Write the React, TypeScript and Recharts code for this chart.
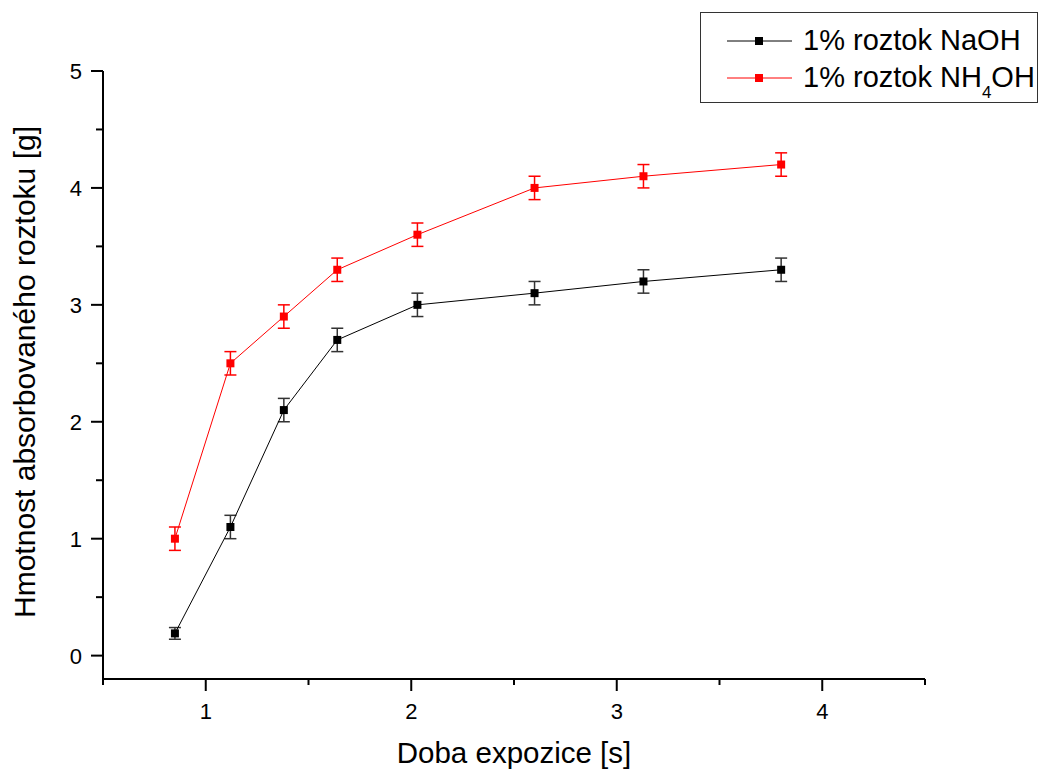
import { LineChart, Line, XAxis, YAxis, ErrorBar, Legend, Label } from 'recharts';

const exposure = [0.85, 1.12, 1.38, 1.64, 2.03, 2.6, 3.13, 3.8];
const naoh = [0.19, 1.1, 2.1, 2.7, 3.0, 3.1, 3.2, 3.3];
const naohErr = [0.05, 0.1, 0.1, 0.1, 0.1, 0.1, 0.1, 0.1];
const nh4oh = [1.0, 2.5, 2.9, 3.3, 3.6, 4.0, 4.1, 4.2];
const nh4ohErr = [0.1, 0.1, 0.1, 0.1, 0.1, 0.1, 0.1, 0.1];
const xTicks = [0.5, 1, 1.5, 2, 2.5, 3, 3.5, 4, 4.5];
const yTicks = [0, 0.5, 1, 1.5, 2, 2.5, 3, 3.5, 4, 4.5, 5];

const data = exposure.map((x, i) => ({
  x,
  naoh: naoh[i],
  naohErr: naohErr[i],
  nh4oh: nh4oh[i],
  nh4ohErr: nh4ohErr[i],
}));

const FONT = '"Liberation Sans", Arial, sans-serif';

function squareDot(color: string) {
  return (props: any) => {
    const { cx, cy, index } = props;
    if (cx == null || cy == null) return <g key={`d-${index}`} />;
    return <rect key={`d-${index}`} x={cx - 4} y={cy - 4} width={8} height={8} fill={color} />;
  };
}

function XTick(props: any) {
  const { x, y, payload } = props;
  const major = Number.isInteger(payload.value);
  return (
    <g>
      <line x1={x} y1={y} x2={x} y2={y + (major ? 12 : 6)} stroke="#000" strokeWidth={2} />
      {major && (
        <text x={x} y={y + 40} textAnchor="middle" fontSize={22} fontFamily={FONT} fill="#000">
          {payload.value}
        </text>
      )}
    </g>
  );
}

function YTick(props: any) {
  const { x, y, payload } = props;
  const major = Number.isInteger(payload.value);
  return (
    <g>
      <line x1={x - (major ? 12 : 7)} y1={y} x2={x} y2={y} stroke="#000" strokeWidth={2} />
      {major && (
        <text x={x - 21} y={y + 8} textAnchor="end" fontSize={22} fontFamily={FONT} fill="#000">
          {payload.value}
        </text>
      )}
    </g>
  );
}

function LegendBox() {
  return (
    <div style={{ width: 336, height: 89, border: '1px solid #333', background: '#fff' }}>
      <svg width={336} height={89}>
        <line x1={26} y1={28} x2={91} y2={28} stroke="#000" strokeWidth={1} />
        <rect x={54} y={24} width={8} height={8} fill="#000" />
        <text x={102} y={37} fontSize={29} fontFamily={FONT} fill="#000">
          1% roztok NaOH
        </text>
        <line x1={26} y1={65} x2={91} y2={65} stroke="#ff0000" strokeWidth={1} />
        <rect x={54} y={61} width={8} height={8} fill="#ff0000" />
        <text x={102} y={74} fontSize={29} fontFamily={FONT} fill="#000">
          1% roztok NH
          <tspan fontSize={17} dy={11}>4</tspan>
          <tspan dy={-11}>OH</tspan>
        </text>
      </svg>
    </div>
  );
}

export default function App() {
  return (
    <div style={{ position: 'absolute', left: 0, top: 0, background: '#fff' }}>
      <LineChart width={1038} height={769} data={data} margin={{ top: 71, right: 113, bottom: 0, left: 0 }}>
        <XAxis
          dataKey="x"
          type="number"
          domain={[0.5, 4.5]}
          ticks={xTicks}
          interval={0}
          allowDataOverflow
          height={90}
          tickSize={0}
          tickMargin={0}
          tickLine={false}
          tick={<XTick />}
          axisLine={{ stroke: '#000', strokeWidth: 2 }}
        >
          <Label
            content={(p: any) => {
              const vb = p.viewBox;
              return (
                <text x={vb.x + vb.width / 2} y={vb.y + 84} textAnchor="middle" fontSize={29.5} fontFamily={FONT} fill="#000">
                  Doba expozice [s]
                </text>
              );
            }}
          />
        </XAxis>
        <YAxis
          type="number"
          domain={[-0.2, 5]}
          ticks={yTicks}
          interval={0}
          allowDataOverflow
          width={103}
          tickSize={0}
          tickMargin={0}
          tickLine={false}
          tick={<YTick />}
          axisLine={{ stroke: '#000', strokeWidth: 2 }}
        >
          <Label
            content={(p: any) => {
              const vb = p.viewBox;
              const cx = vb.x + 35;
              const cy = vb.y + vb.height / 2 - 3;
              return (
                <text x={cx} y={cy} transform={`rotate(-90 ${cx} ${cy})`} textAnchor="middle" fontSize={30} fontFamily={FONT} fill="#000">
                  Hmotnost absorbovaného roztoku [g]
                </text>
              );
            }}
          />
        </YAxis>
        <Legend
          layout="vertical"
          align="center"
          verticalAlign="middle"
          content={() => <LegendBox />}
          wrapperStyle={{ left: 700, top: 12, width: 338, height: 91, margin: 0 }}
        />
        <Line
          dataKey="naoh"
          stroke="#000"
          strokeWidth={1}
          dot={squareDot('#000')}
          activeDot={false}
          isAnimationActive={false}
        >
          <ErrorBar dataKey="naohErr" direction="y" width={6} stroke="#333" strokeWidth={1.5} />
        </Line>
        <Line
          dataKey="nh4oh"
          stroke="#ff0000"
          strokeWidth={1}
          dot={squareDot('#ff0000')}
          activeDot={false}
          isAnimationActive={false}
        >
          <ErrorBar dataKey="nh4ohErr" direction="y" width={6} stroke="#ff0000" strokeWidth={1.5} />
        </Line>
      </LineChart>
    </div>
  );
}
